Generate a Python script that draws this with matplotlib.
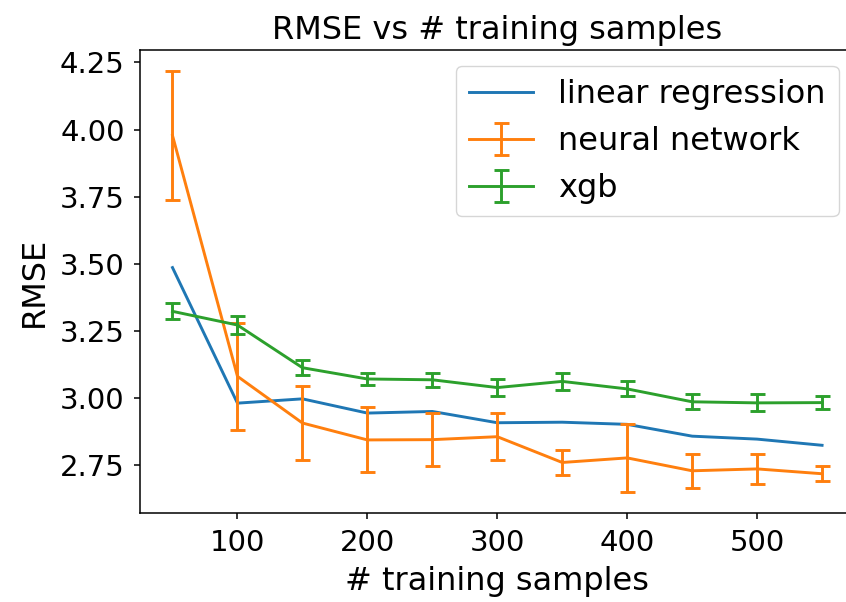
import numpy as np
import matplotlib
matplotlib.use('Agg')
import matplotlib.pyplot as plt

n_samples = [50, 100, 150, 200, 250, 300, 350, 400, 450, 500, 550]
rmse_linear = [3.486, 2.981, 2.997, 2.944, 2.950, 2.908, 2.910, 2.902, 2.858, 2.847, 2.824]
rmse_nn = [3.978, 3.081, 2.907, 2.844, 2.845, 2.856, 2.760, 2.777, 2.729, 2.736, 2.718]
err_nn = [0.240, 0.200, 0.138, 0.121, 0.100, 0.087, 0.048, 0.128, 0.063, 0.055, 0.027]
rmse_xgb = [3.323, 3.272, 3.113, 3.071, 3.068, 3.039, 3.062, 3.034, 2.986, 2.982, 2.983]
err_xgb = [0.030, 0.034, 0.027, 0.024, 0.026, 0.033, 0.031, 0.028, 0.028, 0.032, 0.025]

fig = plt.figure(figsize=(8.46, 6.02), dpi=100)
# axes runs a bit past the right border, like the cropped original
ax = fig.add_axes([0.1655, 0.1473, 0.8446, 0.7696])

ax.plot(n_samples, rmse_linear, color='C0', lw=2.1, label='linear regression')
ax.errorbar(n_samples, rmse_nn, yerr=err_nn, color='C1', lw=2.1, elinewidth=2.1,
            capsize=5.4, capthick=2.1, label='neural network')
ax.errorbar(n_samples, rmse_xgb, yerr=err_xgb, color='C2', lw=2.1, elinewidth=2.1,
            capsize=5.4, capthick=2.1, label='xgb')

ax.set_title('RMSE vs # training samples', fontsize=23, pad=8)
ax.set_xlabel('# training samples', fontsize=23, labelpad=7)
ax.set_ylabel('RMSE', fontsize=23, labelpad=7)
ax.tick_params(labelsize=21, length=4.5, width=1.1, pad=6.5)
for s in ax.spines.values():
    s.set_linewidth(1.1)
ax.spines['right'].set_visible(False)
ax.legend(fontsize=23, loc='upper right', borderaxespad=0.5)

fig.savefig('out.png', dpi=100)
